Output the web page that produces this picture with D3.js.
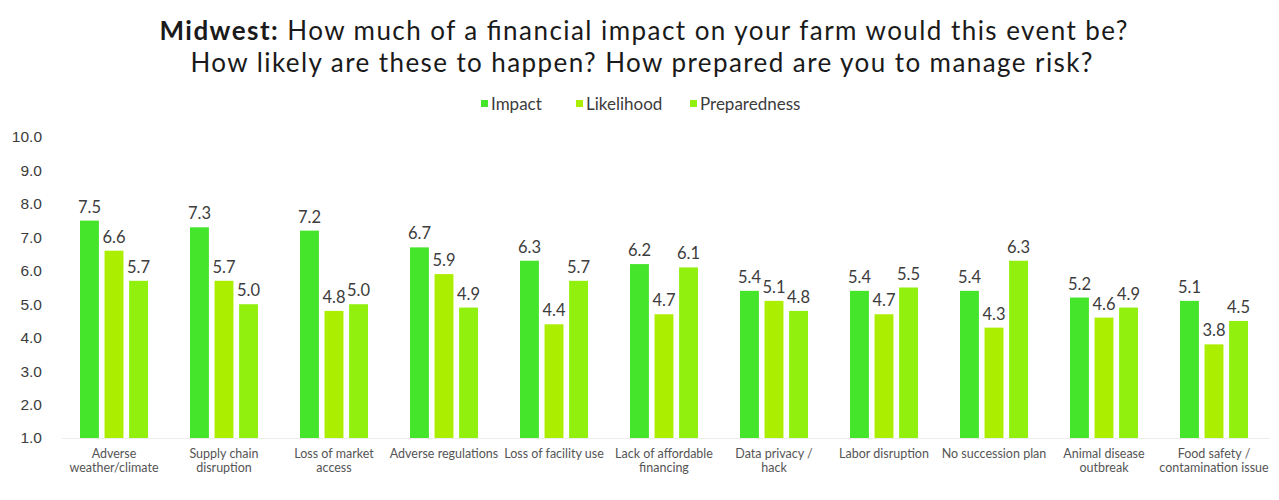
<!DOCTYPE html>
<html>
<head>
<meta charset="utf-8">
<script src="https://cdn.jsdelivr.net/npm/d3@7"></script>
<style>
  body { margin: 0; background: #fff; }
  svg { display: block; font-family: "Century Gothic", Lato, "Open Sans", sans-serif; }
</style>
</head>
<body>
<svg id="chart"></svg>
<script>
// categories (line breaks kept as \n)
const categories = [
  "Adverse\nweather/climate",
  "Supply chain\ndisruption",
  "Loss of market\naccess",
  "Adverse regulations",
  "Loss of facility use",
  "Lack of affordable\nfinancing",
  "Data privacy /\nhack",
  "Labor disruption",
  "No succession plan",
  "Animal disease\noutbreak",
  "Food safety /\ncontamination issue",
];
const seriesNames = ["Impact", "Likelihood", "Preparedness"];
const impact = [7.5, 7.3, 7.2, 6.7, 6.3, 6.2, 5.4, 5.4, 5.4, 5.2, 5.1];
const likelihood = [6.6, 5.7, 4.8, 5.9, 4.4, 4.7, 5.1, 4.7, 4.3, 4.6, 3.8];
const preparedness = [5.7, 5.0, 5.0, 4.9, 5.7, 6.1, 4.8, 5.5, 6.3, 4.9, 4.5];
const yTicks = [1, 2, 3, 4, 5, 6, 7, 8, 9, 10];

const width = 1279, height = 500;
const colors = { Impact: "#45e52b", Likelihood: "#acee00", Preparedness: "#92f00e" };
const textColor = "#3c3c3c";

const svg = d3.select("#chart").attr("width", width).attr("height", height);

// 数据整理
const rows = categories.map((c, i) => ({
  name: c,
  values: [
    { key: "Impact", value: impact[i] },
    { key: "Likelihood", value: likelihood[i] },
    { key: "Preparedness", value: preparedness[i] },
  ],
}));

// 标题
svg.append("g")
  .attr("class", "titleG")
  .call((g) => {
    const t1 = g.append("text")
      .attr("x", width / 2 + 4)
      .attr("y", 40)
      .attr("text-anchor", "middle")
      .attr("font-size", 26)
      .attr("fill", "#1a1a1a");
    t1.append("tspan").attr("font-weight", "bold").text("Midwest:");
    t1.append("tspan").text(" How much of a financial impact on your farm would this event be?");
    t1.attr("textLength", 968).attr("lengthAdjust", "spacing");
    g.append("text")
      .attr("x", width / 2 + 2)
      .attr("y", 72)
      .attr("text-anchor", "middle")
      .attr("font-size", 26)
      .attr("fill", "#1a1a1a")
      .attr("textLength", 902)
      .attr("lengthAdjust", "spacing")
      .text("How likely are these to happen? How prepared are you to manage risk?");
  });

// 图例
const legendX = [481, 576, 690];
svg.append("g")
  .attr("class", "legendG")
  .selectAll("g")
  .data(seriesNames)
  .join("g")
  .attr("transform", (d, i) => `translate(${legendX[i]}, 104)`)
  .call((g) => {
    g.append("rect")
      .attr("y", -4)
      .attr("width", 7)
      .attr("height", 7)
      .attr("fill", (d) => colors[d]);
    g.append("text")
      .attr("x", 10)
      .attr("y", 6)
      .attr("font-size", 17)
      .attr("fill", textColor)
      .text((d) => d);
  });

// 坐标轴与比例尺
const x0 = d3.scaleBand().domain(categories).range([59, 1269]);
const x1 = d3.scaleBand().domain(seriesNames).range([21, 89]).paddingInner(0.23);
const y = d3.scaleLinear().domain([1, 10]).range([438, 137]);

svg.append("g")
  .attr("class", "yAxis")
  .attr("transform", "translate(45, 0)")
  .call(d3.axisLeft(y).tickValues(yTicks).tickFormat(d3.format(".1f")).tickSize(0))
  .call((g) => {
    g.select(".domain").remove();
    g.selectAll("text")
      .attr("font-family", null)
      .attr("font-size", 15.5)
      .attr("fill", textColor);
  });

svg.append("line")
  .attr("x1", 62)
  .attr("x2", 1270)
  .attr("y1", y(1) + 0.5)
  .attr("y2", y(1) + 0.5)
  .attr("stroke", "#ececec");

// 柱状图
const groups = svg.append("g")
  .attr("class", "barG")
  .selectAll("g")
  .data(rows)
  .join("g")
  .attr("transform", (d) => `translate(${x0(d.name)}, 0)`);

groups.selectAll("rect")
  .data((d) => d.values)
  .join("rect")
  .attr("x", (d) => x1(d.key))
  .attr("width", x1.bandwidth())
  .attr("y", (d) => y(d.value))
  .attr("height", (d) => y(1) - y(d.value))
  .attr("fill", (d) => colors[d.key]);

groups.selectAll("text.val")
  .data((d) => d.values)
  .join("text")
  .attr("class", "val")
  .attr("x", (d) => x1(d.key) + x1.bandwidth() / 2)
  .attr("y", (d) => y(d.value) - 8)
  .attr("text-anchor", "middle")
  .attr("font-size", 16.5)
  .attr("fill", textColor)
  .text((d) => d3.format(".1f")(d.value));

// 类别标签
groups.append("text")
  .attr("class", "cat")
  .attr("text-anchor", "middle")
  .attr("font-size", 12.5)
  .attr("fill", "#555")
  .call((t) => {
    t.selectAll("tspan")
      .data((d) => d.name.split("\n"))
      .join("tspan")
      .attr("x", x0.bandwidth() / 2)
      .attr("y", (d, i) => 458 + i * 14)
      .text((d) => d);
  });
</script>
</body>
</html>
